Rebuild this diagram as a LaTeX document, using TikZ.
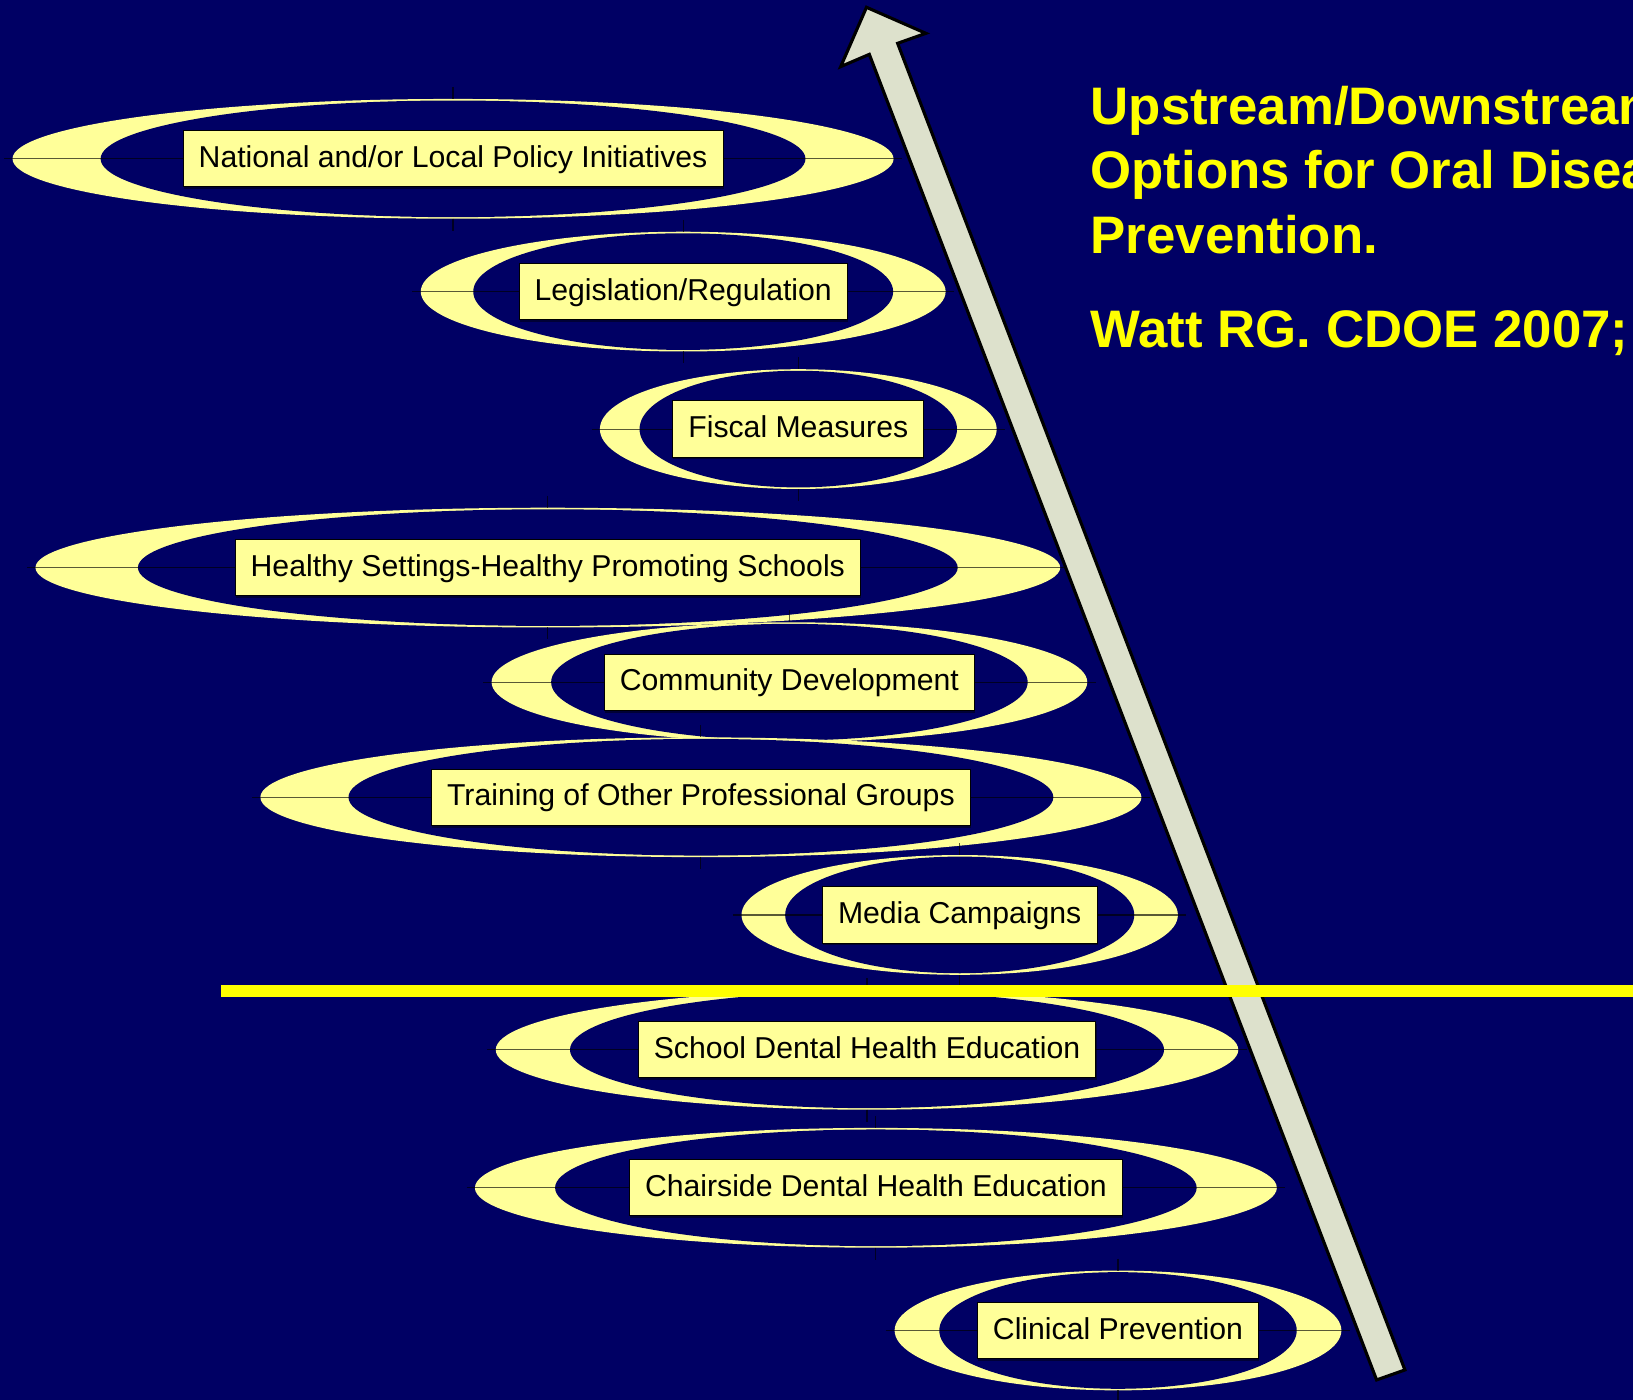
\documentclass[tikz,border=0pt]{standalone}
\usepackage{fontspec}
\setmainfont{Liberation Sans}
\usetikzlibrary{shadows}
\definecolor{bgnavy}{RGB}{0,0,100}
\definecolor{ringfill}{RGB}{255,255,153}
\definecolor{arrowfill}{RGB}{221,225,204}
\definecolor{titleyellow}{RGB}{255,255,0}
\tikzset{
  conn/.style={draw=black, draw opacity=0.65, line width=1.1pt},
  labelbox/.style={draw=black, line width=0.9pt, fill=ringfill, inner xsep=15pt,
    text height=21pt, text depth=4.5pt,
    minimum height=54pt, text=black, font=\fontsize{29}{34}\selectfont,
    drop shadow={shadow xshift=0.6pt, shadow yshift=-2.2pt, fill=black, opacity=0.45}},
  titletext/.style={text=titleyellow, inner sep=0pt, anchor=base west,
    font=\fontsize{50.7}{61}\selectfont\bfseries},
  bigarrow/.style={fill=arrowfill, draw=black, line width=3pt, line join=miter}
}
\newcommand\ringitem[5]{%
  \fill[ringfill] (#2,#3) ellipse [x radius=#4, y radius=57.5];
  \fill[bgnavy] (#2,#3) ellipse [x radius={0.8*#4}, y radius=56];
  \coordinate (#1-w) at ({#2-#4-8},#3);
  \coordinate (#1-e) at ({#2+#4+8},#3);
  \coordinate (#1-n) at (#2,{#3-57.5});
  \coordinate (#1-nn) at (#2,{#3-69});
  \coordinate (#1-s) at (#2,{#3+57.5});
  \coordinate (#1-ss) at (#2,{#3+69});
  \draw[conn] (#1-w) -- (#1-e);
  \draw[conn] (#1-nn) -- (#1-n);
  \draw[conn] (#1-s) -- (#1-ss);
  \node[labelbox] (#1) at (#2,#3) {#5};
}
\begin{document}
\begin{tikzpicture}[x=1pt, y=-1pt]
\useasboundingbox (0,0) rectangle (1568,1344);
\clip (0,0) rectangle (1568,1344);
\fill[bgnavy] (0,0) rectangle (1568,1344);

\ringitem{policy}{435}{152.5}{423}{National and/or Local Policy Initiatives}
\ringitem{legis}{656}{280}{252}{Legislation/Regulation}
\ringitem{fiscal}{766.5}{412}{190.5}{Fiscal Measures}
\ringitem{healthy}{526}{545}{492}{Healthy Settings-Healthy Promoting Schools}
\ringitem{community}{758}{655}{286}{Community Development}
\ringitem{training}{673}{765.5}{423}{Training of Other Professional Groups}
\ringitem{media}{921.5}{878.5}{209.5}{Media Campaigns}
\ringitem{school}{832.5}{1008}{356.5}{School Dental Health Education}
\ringitem{chair}{841}{1140.5}{385}{Chairside Dental Health Education}
\ringitem{clinical}{1073.5}{1277.5}{214.5}{Clinical Prevention}

% big arrow
\coordinate (tip) at (832,7);
\coordinate (headR) at (889,32);
\coordinate (shaftRt) at (861.9,41.6);
\coordinate (shaftRb) at (1349,1315.4);
\coordinate (shaftLb) at (1321.8,1325);
\coordinate (shaftLt) at (834.7,52.2);
\coordinate (headL) at (807.2,64);
\draw[bigarrow] (tip) -- (headR) -- (shaftRt) -- (shaftRb) -- (shaftLb) -- (shaftLt) -- (headL) -- cycle;

% divider
\fill[titleyellow] (212,946) rectangle (1570,957);

% title
\node[titletext] (t1) at (1047,120) {Upstream/Downstream};
\node[titletext] (t2) at (1047,181) {Options for Oral Disease};
\node[titletext] (t3) at (1047,243) {Prevention.};
\node[titletext] (t4) at (1047,334) {Watt RG. CDOE 2007;};
\end{tikzpicture}
\end{document}
